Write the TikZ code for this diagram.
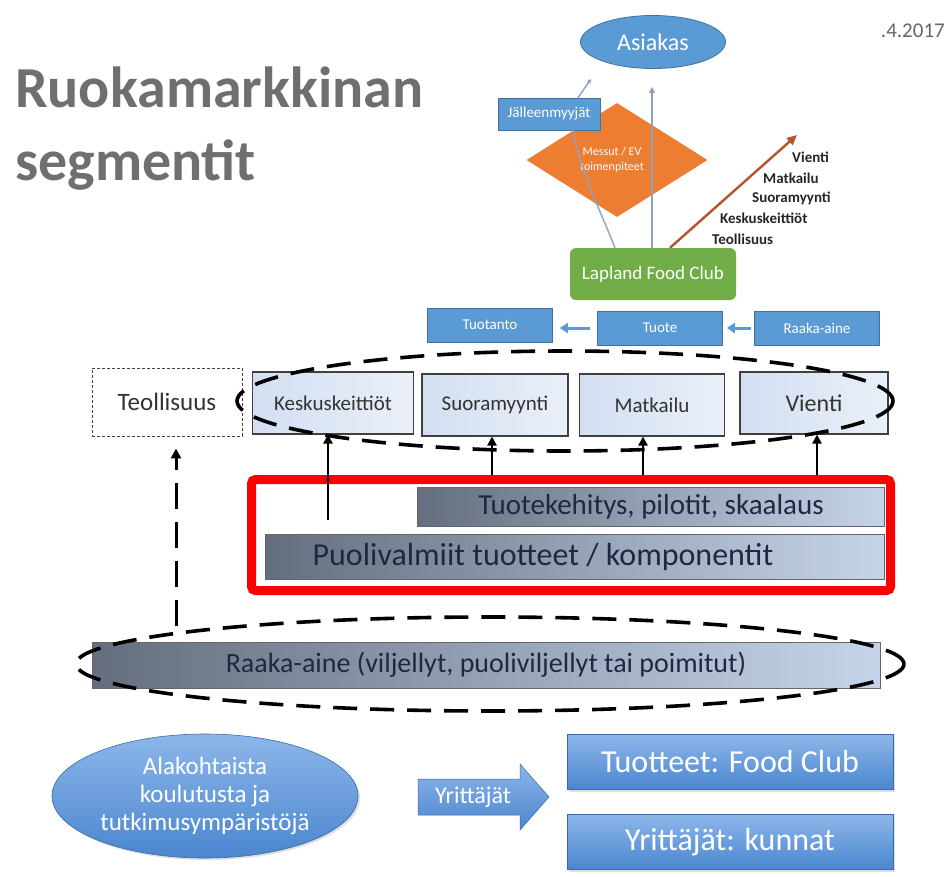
\documentclass[tikz,border=0pt]{standalone}
\usepackage{fontspec}
\setmainfont{Carlito}
\usetikzlibrary{shapes.geometric,arrows.meta,shadows}
\definecolor{titlegray}{HTML}{6F6F6F}
\definecolor{obl}{HTML}{5B9BD5}
\definecolor{obldk}{HTML}{41719C}
\definecolor{oor}{HTML}{ED7D31}
\definecolor{ogr}{HTML}{70AD47}
\definecolor{brownarr}{HTML}{B4552A}
\definecolor{linegray}{HTML}{8EA2BD}
\definecolor{segfill}{HTML}{D3DEF1}
\definecolor{segfill2}{HTML}{EAF0F9}
\definecolor{bardark}{HTML}{646E7E}
\definecolor{barlight}{HTML}{C6D4EA}
\definecolor{bartext}{HTML}{1E2842}
\definecolor{bblue}{HTML}{4A86CF}
\definecolor{bbluelt}{HTML}{8DB6EA}
\tikzset{
  x=1pt,y=-1pt,
  smallbox/.style={draw=obldk,line width=0.6,fill=obl,text=white,font=\fontsize{15}{16}\selectfont,inner sep=0,minimum height=32},
  segbox/.style={draw=black!75,line width=1.1,left color=segfill,right color=segfill2,text=black!80,inner sep=0,minimum height=62,font=\fontsize{21}{23}\selectfont},
  grbar/.style={left color=bardark,right color=barlight,draw=black!60,line width=0.6,text=bartext,inner sep=0,font=\fontsize{29}{31}\selectfont},
  bartxt/.style={text=bartext,inner sep=0},
  dashell/.style={draw=black,line width=3.6,dash pattern=on 24 off 13},
  uparr/.style={draw=black,line width=2.6,-{Triangle[length=9,width=9]}},
  bigbox/.style={top color=bbluelt,bottom color=bblue,draw=bblue!80!black,line width=0.6,text=white,inner sep=0,font=\fontsize{32}{34}\selectfont,drop shadow={opacity=0.25,shadow xshift=2pt,shadow yshift=-2pt}},
  listtxt/.style={anchor=west,inner sep=0,font=\fontsize{15}{16}\selectfont\bfseries,text=black!85}
}
\begin{document}
\begin{tikzpicture}
\useasboundingbox[fill=white] (0,0) rectangle (947,876);

% title
\node[anchor=base west,inner sep=0,text=titlegray,font=\fontsize{58}{60}\selectfont\bfseries] (t1) at (15,107) {Ruokamarkkinan};
\node[anchor=base west,inner sep=0,text=titlegray,font=\fontsize{58}{60}\selectfont\bfseries] (t2) at (15,180) {segmentit};
\node[anchor=east,inner sep=0,text=black!60,font=\fontsize{21}{22}\selectfont] (date) at (945,31) {.4.2017};

% top part
\node[ellipse,draw=obldk,line width=0.8,fill=obl,text=white,minimum width=145,minimum height=53,inner sep=0,font=\fontsize{24}{26}\selectfont] (asiakas) at (653,42) {Asiakas};
\node[diamond,fill=oor,minimum width=181,minimum height=114,inner sep=0,aspect=1.6] (dia) at (617,160) {};
\node[text=white,align=center,font=\fontsize{12}{15}\selectfont,inner sep=0] (diatxt) at (612,160) {Messut / EV\\toimenpiteet};
\node[smallbox,minimum width=102] (jalleen) at (549,114) {Jälleenmyyjät};
\node[rectangle,rounded corners=6,fill=ogr,text=white,minimum width=166,minimum height=52,inner sep=0,font=\fontsize{19}{20}\selectfont] (lfc) at (653,274) {Lapland Food Club};

\draw[linegray,line width=1.6,opacity=0.9] (lfc.north -| 615,0) .. controls (600,210) and (578,165) .. (jalleen.south -| 573,0);
\draw[linegray,line width=1.6,-{Triangle[length=6,width=6]}] (lfc.north -| 652,0) -- ([yshift=-18pt]asiakas.south -| 652,0);
\draw[linegray,line width=1.4,-{Triangle[length=4,width=4]}] (jalleen.north -| 578,0) -- (591,79);
\draw[brownarr,line width=2.4,-{Triangle[length=10,width=9]}] (lfc.north -| 670,0) -- (797,135);

\node[listtxt] (l1) at (792,157) {Vienti};
\node[listtxt] (l2) at (763,178) {Matkailu};
\node[listtxt] (l3) at (752,198) {Suoramyynti};
\node[listtxt] (l4) at (720,218) {Keskuskeittiöt};
\node[listtxt] (l5) at (712,239) {Teollisuus};

% small row
\node[smallbox,minimum width=125,minimum height=34] (tuotanto) at (490,325) {Tuotanto};
\node[smallbox,minimum width=125,minimum height=34] (tuote) at (660,328) {Tuote};
\node[smallbox,minimum width=125,minimum height=34] (raaka) at (817,328) {Raaka-aine};
\draw[obl,line width=3,-{Triangle[length=8,width=10]}] (raaka.west) ++(-3,0) -- ([xshift=4]tuote.east);
\draw[obl,line width=3,-{Triangle[length=8,width=10]}] (tuote.west) ++(-7,0) -- ([xshift=7]tuotanto.east |- tuote.west);

% segments
\node[draw=black!75,line width=0.9,dash pattern=on 3 off 2,minimum width=150,minimum height=68,inner sep=0,text=black!80,font=\fontsize{25}{26}\selectfont] (teol) at (167,402) {Teollisuus};
\node[segbox,minimum width=161] (kesk) at (333,403) {Keskuskeittiöt};
\node[segbox,minimum width=146] (suor) at (495,405) {Suoramyynti};
\node[segbox,minimum width=145] (matk) at (652,405) {Matkailu};
\node[segbox,minimum width=148,font=\fontsize{24}{26}\selectfont] (vien) at (814,403) {Vienti};
\draw[dashell] (565,401) ellipse [x radius=328,y radius=50];

% red box
\node[draw=red,line width=9,rounded corners=4,minimum width=639,minimum height=111,inner sep=0] (red) at (571,535) {};
\node[grbar,minimum width=467,minimum height=39] (tuotek) at (651,507) {Tuotekehitys, pilotit, skaalaus};
\node[grbar,minimum width=619,minimum height=45] (puoli) at (575,557) {};
\node[bartxt,font=\fontsize{32}{34}\selectfont] (puolitxt) at (543,557) {Puolivalmiit tuotteet / komponentit};

\draw[uparr] (328,520) -- (kesk.south -| 328,0);
\draw[uparr] (red.north -| 492,0) -- (suor.south -| 492,0);
\draw[uparr] (red.north -| 643,0) -- (matk.south -| 643,0);
\draw[uparr] (red.north -| 817,0) -- (vien.south -| 817,0);

% raaka-aine
\node[grbar,minimum width=788,minimum height=46,font=\fontsize{28}{30}\selectfont] (raakabar) at (486,665) {Raaka-aine (viljellyt, puoliviljellyt tai poimitut)};
\draw[dashell] (490,664) ellipse [x radius=414,y radius=47];
\draw[black,line width=3,dash pattern=on 26 off 13,-{Triangle[length=10,width=10]}] (176,626) -- ([yshift=-12pt]teol.south -| 176,0);

% bottom
\node[ellipse,top color=bbluelt,bottom color=bblue,draw=bblue!80!black,line width=0.6,minimum width=306,minimum height=124,inner sep=0,text=white,align=center,font=\fontsize{25}{28}\selectfont,drop shadow={opacity=0.25,shadow xshift=2pt,shadow yshift=-2pt}] (ala) at (205,796) {Alakohtaista\\koulutusta ja\\tutkimusympäristöjä};
\shade[top color=bbluelt,bottom color=bblue,draw=bblue!80!black,line width=0.5] (418,779) -- (520,779) -- (520,764) -- (549,797) -- (520,830) -- (520,815) -- (418,815) -- cycle;
\node[text=white,inner sep=0,font=\fontsize{24}{26}\selectfont] (yr) at (473,797) {Yrittäjät};
\node[bigbox,minimum width=326,minimum height=55] (tfc) at (730,762) {Tuotteet: Food Club};
\node[bigbox,minimum width=326,minimum height=55] (yk) at (730,842) {Yrittäjät: kunnat};
\end{tikzpicture}
\end{document}
